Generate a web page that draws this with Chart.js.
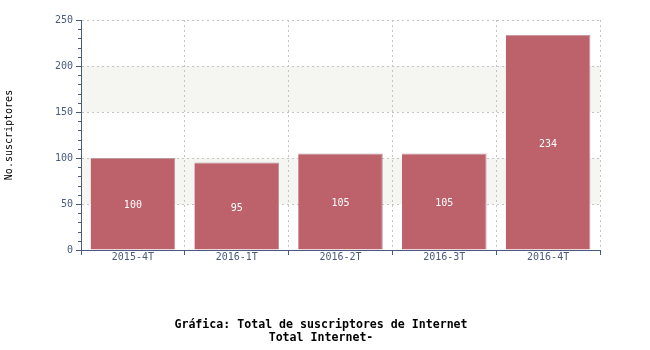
<!DOCTYPE html>
<html>
<head>
<meta charset="utf-8">
<script src="https://cdn.jsdelivr.net/npm/chart.js@4/dist/chart.umd.min.js"></script>
<style>
  html, body { margin: 0; padding: 0; background: #fff; }
  #wrap { width: 650px; height: 350px; }
</style>
</head>
<body>
<div id="wrap"><canvas id="chart" width="650" height="350"></canvas></div>
<script>
// datos de la grafica
const categories = ['2015-4T', '2016-1T', '2016-2T', '2016-3T', '2016-4T'];
const subscribers = [100, 95, 105, 105, 234];
const yMax = 250;
const yStep = 50;
const yMinorStep = 10;
const shadedBands = [[50, 100], [150, 200]];
const titleLines = ['Gráfica: Total de suscriptores de Internet', 'Total Internet-'];
const yTitle = 'No.suscriptores';

const axisColor = '#4a5a7e';
const gridColor = '#c4c4c4';
const monoFont = '"DejaVu Sans Mono", monospace';

// franjas de fondo
const bandsPlugin = {
    id: 'bands',
    beforeDraw: (chart) => {
        const { ctx, chartArea } = chart;
        const y = chart.scales.y;
        ctx.save();
        ctx.fillStyle = '#f5f5f1';
        shadedBands.forEach(([lo, hi]) => {
            const top = y.getPixelForValue(hi);
            const bottom = y.getPixelForValue(lo);
            ctx.fillRect(chartArea.left, top, chartArea.right - chartArea.left, bottom - top);
        });
        ctx.restore();
    }
};

// marcas menores del eje y
const minorTicksPlugin = {
    id: 'minorTicks',
    afterDraw: (chart) => {
        const { ctx } = chart;
        const y = chart.scales.y;
        const x0 = chart.chartArea.left;
        ctx.save();
        ctx.strokeStyle = axisColor;
        ctx.lineWidth = 1;
        for (let v = 0; v <= yMax; v += yMinorStep) {
            if (v % yStep === 0) continue;
            const py = Math.round(y.getPixelForValue(v)) + 0.5;
            ctx.beginPath();
            ctx.moveTo(x0 - 3, py);
            ctx.lineTo(x0, py);
            ctx.stroke();
        }
        ctx.restore();
    }
};

// valores dentro de las barras
const valueLabelsPlugin = {
    id: 'valueLabels',
    afterDatasetsDraw: (chart) => {
        const { ctx } = chart;
        const meta = chart.getDatasetMeta(0);
        ctx.save();
        ctx.font = '10px ' + monoFont;
        ctx.fillStyle = '#ffffff';
        ctx.textAlign = 'center';
        ctx.textBaseline = 'middle';
        meta.data.forEach((bar, i) => {
            const mid = (bar.y + bar.base) / 2;
            ctx.fillText(String(subscribers[i]), bar.x, mid + 2);
        });
        ctx.restore();
    }
};

// titulo inferior
const bottomTitlePlugin = {
    id: 'bottomTitle',
    afterDraw: (chart) => {
        const { ctx } = chart;
        ctx.save();
        ctx.font = 'bold 11.6px ' + monoFont;
        ctx.fillStyle = '#000000';
        ctx.textAlign = 'center';
        ctx.textBaseline = 'middle';
        ctx.fillText(titleLines[0], 321, 325);
        ctx.fillText(titleLines[1], 321, 338);
        ctx.restore();
    }
};

new Chart(document.getElementById('chart').getContext('2d'), {
    type: 'bar',
    data: {
        labels: categories,
        datasets: [{
            data: subscribers,
            backgroundColor: '#bd616b',
            borderColor: '#b9989c',
            borderWidth: { top: 1, right: 1, left: 0, bottom: 0 },
            borderSkipped: false,
            categoryPercentage: 1,
            barPercentage: 0.815
        }]
    },
    options: {
        responsive: false,
        animation: false,
        devicePixelRatio: 1,
        layout: { padding: { top: 20, right: 50, left: 0, bottom: 0 } },
        plugins: {
            legend: { display: false },
            tooltip: { enabled: false },
            title: { display: false }
        },
        scales: {
            x: {
                afterFit: (s) => { s.height = 100; },
                grid: {
                    offset: true,
                    color: gridColor,
                    drawTicks: true,
                    tickLength: 5,
                    tickColor: axisColor
                },
                border: { color: axisColor, width: 1, dash: [2, 3] },
                ticks: {
                    font: { family: monoFont, size: 10 },
                    color: axisColor,
                    padding: -4
                }
            },
            y: {
                min: 0,
                max: yMax,
                afterFit: (s) => { s.width = 81; },
                grid: {
                    color: gridColor,
                    drawTicks: true,
                    tickLength: 5,
                    tickColor: axisColor
                },
                border: { color: axisColor, width: 1, dash: [2, 3] },
                ticks: {
                    stepSize: yStep,
                    font: { family: monoFont, size: 10 },
                    color: axisColor,
                    padding: 3
                },
                title: {
                    display: true,
                    text: yTitle,
                    font: { family: monoFont, size: 10 },
                    color: '#000000',
                    padding: { top: 3, bottom: 0 }
                }
            }
        }
    },
    plugins: [bandsPlugin, minorTicksPlugin, valueLabelsPlugin, bottomTitlePlugin]
});
</script>
</body>
</html>
